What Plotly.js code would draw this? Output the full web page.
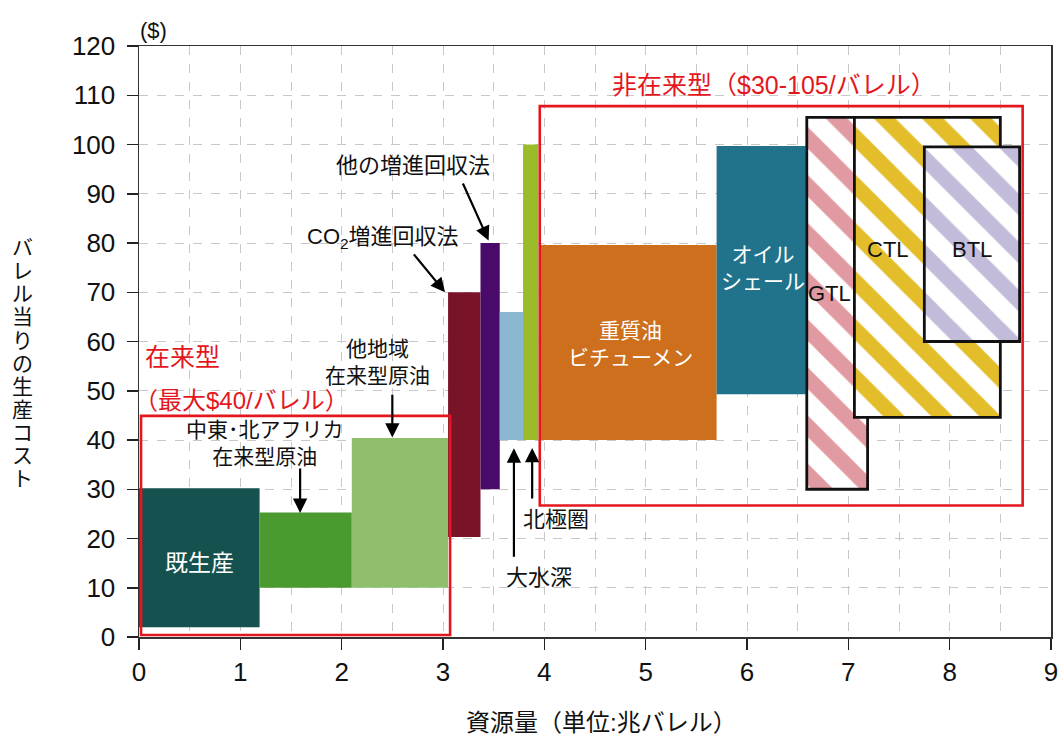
<!DOCTYPE html>
<html>
<head>
<meta charset="utf-8">
<script src="https://cdn.plot.ly/plotly-3.0.1.min.js"></script>
<style>
  body { margin: 0; background: #fff; }
  #chart { width: 1061px; height: 742px; }
</style>
</head>
<body>
<div id="chart"></div>
<script>
// resource blocks (x = cumulative resource in trillion barrels, y = cost $/barrel)
var names = ['既生産', '中東・北アフリカ在来型原油', '他地域在来型原油', 'CO2増進回収法', '他の増進回収法',
  '大水深', '北極圏', '重質油・ビチューメン', 'オイルシェール'];
var xStart = [0, 1.19, 2.10, 3.05, 3.37, 3.56, 3.79, 3.955, 5.70];
var xEnd = [1.19, 2.10, 3.05, 3.37, 3.56, 3.79, 3.94, 5.70, 6.58];
var costLow = [2, 10, 10, 20.3, 30, 40, 40, 40, 49.3];
var costHigh = [30.2, 25.3, 40.4, 70, 80, 66, 100, 79.6, 99.7];
var colors = ['#14514f', '#4a9a2f', '#8fbe6c', '#791328', '#4a0a6a', '#8ab8d2', '#9cbb2b', '#cd6f1d', '#20738b'];

// hatched synthetic fuels
var hatchNames = ['GTL', 'CTL', 'BTL'];
var hatchStart = [6.59, 7.06, 7.75];
var hatchEnd = [7.19, 8.50, 8.69];
var hatchLow = [30, 44.6, 60];
var hatchHigh = [105.5, 105.5, 99.5];
var hatchColors = ['#e29aa2', '#e3be2a', '#c2bbd9'];

// red group outlines: conventional / unconventional
var groupNames = ['在来型', '非在来型'];
var groupStart = [0.02, 3.955];
var groupEnd = [3.07, 8.72];
var groupLow = [0.4, 26.7];
var groupHigh = [44.9, 107.8];

function mids(a, b) { return a.map((v, i) => (v + b[i]) / 2); }
function diffs(a, b) { return a.map((v, i) => b[i] - v); }

var font = 'Liberation Sans, Noto Sans CJK JP, sans-serif';
var red = '#e3171d';

var solid = {
  type: 'bar',
  x: mids(xStart, xEnd),
  width: diffs(xStart, xEnd),
  base: costLow,
  y: diffs(costLow, costHigh),
  text: names,
  textposition: 'none',
  marker: { color: colors, line: { width: 0 } },
  hoverinfo: 'skip'
};

var hatched = {
  type: 'bar',
  x: mids(hatchStart, hatchEnd),
  width: diffs(hatchStart, hatchEnd),
  base: hatchLow,
  y: diffs(hatchLow, hatchHigh),
  text: hatchNames,
  textposition: 'none',
  marker: {
    color: 'white',
    line: { color: '#111', width: 2.8 },
    pattern: { shape: '\\', fgcolor: hatchColors, bgcolor: 'white', size: 34, solidity: 0.45, fillmode: 'replace' }
  },
  hoverinfo: 'skip'
};

var groups = {
  type: 'bar',
  x: mids(groupStart, groupEnd),
  width: diffs(groupStart, groupEnd),
  base: groupLow,
  y: diffs(groupLow, groupHigh),
  text: groupNames,
  textposition: 'none',
  marker: { color: 'rgba(0,0,0,0)', line: { color: red, width: 2.6 } },
  hoverinfo: 'skip'
};

var data = [solid, hatched, groups];

function label(text, x, y, size, color, anchor) {
  return { text: text, x: x, y: y, xref: 'x', yref: 'y', showarrow: false,
    xanchor: anchor || 'center', yanchor: 'middle',
    font: { family: font, size: size, color: color || '#111' } };
}
function arrow(x0, y0, x1, y1) {
  return { text: '', x: x1, y: y1, ax: x0, ay: y0, xref: 'x', yref: 'y', axref: 'x', ayref: 'y',
    showarrow: true, arrowhead: 2, arrowsize: 1.3, arrowwidth: 2.2, arrowcolor: '#000', standoff: 0 };
}

var annotations = [
  { text: '($)', xref: 'paper', yref: 'paper', x: 0.016, y: 1.026, xanchor: 'center', yanchor: 'middle',
    showarrow: false, font: { family: font, size: 22, color: '#111' } },
  label('非在来型（$30-105/バレル）', 6.27, 112.1, 25, red),
  label('在来型', 0.04, 56.9, 25, red, 'left'),
  { text: '（最大$40/バレル）', xref: 'paper', yref: 'y', x: -0.008, y: 48.1, xanchor: 'left', yanchor: 'middle',
    showarrow: false, font: { family: font, size: 24, color: red } },
  label('中東･北アフリカ<br>在来型原油', 1.24, 39.4, 21),
  label('他地域<br>在来型原油', 2.35, 55.8, 21),
  label('CO<sub>2</sub>増進回収法', 2.41, 81, 22),
  label('他の増進回収法', 2.70, 95.8, 22),
  label('大水深', 3.95, 12, 22),
  label('北極圏', 4.12, 23.8, 22),
  label('既生産', 0.6, 15, 23, '#fff'),
  label('重質油<br>ビチューメン', 4.85, 59.5, 21, '#fff'),
  label('オイル<br>シェール', 6.16, 75, 21, '#fff'),
  label('GTL', 6.81, 69.8, 22),
  label('CTL', 7.39, 78.6, 22),
  label('BTL', 8.22, 78.6, 22),
  arrow(1.59, 34.5, 1.59, 25.2),
  arrow(2.50, 49.5, 2.50, 40.5),
  arrow(2.70, 78, 3.02, 70),
  arrow(3.19, 92.4, 3.45, 80.5),
  arrow(3.70, 16, 3.70, 38.3),
  arrow(3.88, 27.8, 3.88, 38.4),
  { text: '資源量（単位:兆バレル）', xref: 'paper', yref: 'paper', x: 0.507, y: -0.144,
    xanchor: 'center', yanchor: 'middle', showarrow: false, font: { family: font, size: 24, color: '#111' } }
];

// vertical y-axis title, one upright character per row
var yTitle = 'バレル当りの生産コスト';
Array.from(yTitle).forEach(function (ch, i) {
  annotations.push({ text: ch, xref: 'paper', yref: 'paper', x: -0.128, y: (637 - (247.5 + i * 23.15)) / 591,
    xanchor: 'center', yanchor: 'middle', showarrow: false, font: { family: font, size: 21, color: '#111' } });
});

var grid = '#c8c8c8';
var layout = {
  width: 1061,
  height: 742,
  margin: { l: 139, r: 10, t: 46, b: 105 },
  paper_bgcolor: '#fff',
  plot_bgcolor: '#fff',
  barmode: 'overlay',
  showlegend: false,
  hovermode: false,
  font: { family: font, color: '#111' },
  xaxis: {
    range: [0, 9], dtick: 1, tick0: 0,
    ticks: 'outside', ticklen: 11, tickwidth: 1.5, tickcolor: '#222',
    showline: true, linecolor: '#333', linewidth: 1.5, mirror: true,
    showgrid: true, gridcolor: grid, griddash: 'dash', gridwidth: 1,
    minor: { dtick: 0.5, showgrid: true, gridcolor: grid, griddash: 'dash', gridwidth: 1 },
    zeroline: false,
    tickfont: { family: font, size: 26, color: '#111' }
  },
  yaxis: {
    range: [0, 120], dtick: 10, tick0: 0,
    ticks: 'outside', ticklen: 11, tickwidth: 1.5, tickcolor: '#222',
    ticklabelstandoff: 6,
    showline: true, linecolor: '#333', linewidth: 1.5, mirror: true,
    showgrid: true, gridcolor: grid, griddash: 'dash', gridwidth: 1,
    zeroline: false,
    tickfont: { family: font, size: 26, color: '#111' }
  },
  annotations: annotations
};

Plotly.newPlot('chart', data, layout, { displayModeBar: false, staticPlot: true });
</script>
</body>
</html>
